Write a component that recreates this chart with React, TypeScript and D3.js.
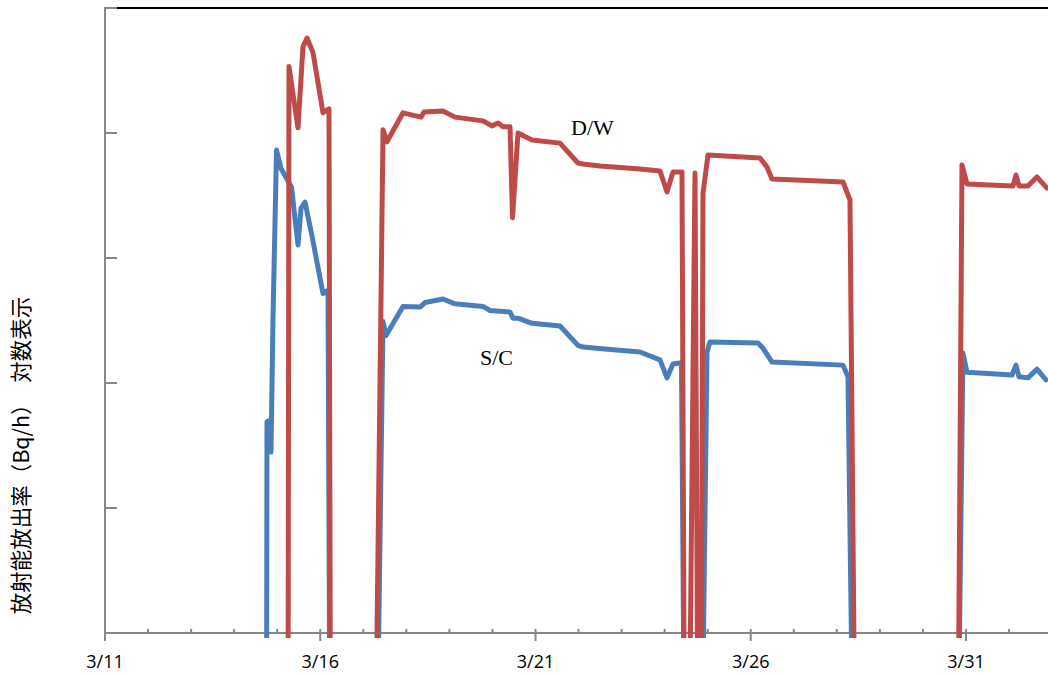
import React from "react";
import * as d3 from "d3";

// Time expressed as (fractional) day of March 2011; values in Bq/h (log scale)
const FLOOR = 1e9; // below axis: no release / no data (drawn to the axis)

const scDays = [
  14.751, 14.763, 14.81, 14.856, 14.902, 14.984, 15.088, 15.332, 15.483, 15.553, 15.646, 15.808, 16.064, 16.18, 16.226,
  17.318, 17.458, 17.527, 17.922, 18.317, 18.433, 18.851, 19.13, 19.78, 19.943, 20.408, 20.477, 20.593, 20.919, 21.569,
  21.987, 22.103, 22.614, 23.427, 23.892, 24.055, 24.194, 24.391, 24.461,
  24.868, 24.984, 25.053, 26.168, 26.285, 26.494, 28.143, 28.259, 28.375,
  30.814, 30.93, 31.023, 32.069, 32.161, 32.231, 32.44, 32.649, 32.858,
];
const scValues = [
  FLOOR, 4.9e11, 5.0e11, 2.8e11, 3.2e12, 7.3e13, 5.2e13, 3.7e13, 1.27e13, 2.5e13, 2.8e13, 1.5e13, 5.2e12, 5.5e12, FLOOR,
  FLOOR, 3.1e12, 2.4e12, 4.1e12, 4.05e12, 4.4e12, 4.7e12, 4.3e12, 4.1e12, 3.8e12, 3.7e12, 3.3e12, 3.3e12, 3.0e12, 2.86e12,
  2.0e12, 1.94e12, 1.87e12, 1.77e12, 1.53e12, 1.1e12, 1.42e12, 1.45e12, FLOOR,
  FLOOR, 1.77e12, 2.13e12, 2.09e12, 1.9e12, 1.47e12, 1.39e12, 1.12e12, FLOOR,
  FLOOR, 1.74e12, 1.22e12, 1.16e12, 1.39e12, 1.12e12, 1.1e12, 1.29e12, 1.06e12,
];

const dwDays = [
  15.251, 15.274, 15.483, 15.599, 15.692, 15.832, 16.064, 16.157, 16.203, 16.238,
  17.285, 17.458, 17.551, 17.922, 18.34, 18.41, 18.851, 19.13, 19.78, 19.99, 20.129, 20.245, 20.408, 20.466, 20.593,
  20.919, 21.569, 21.987, 22.103, 22.498, 23.427, 23.892, 24.055, 24.194, 24.403, 24.461,
  24.57, 24.705, 24.775,
  24.845, 24.891, 25.007, 26.215, 26.377, 26.494, 28.143, 28.305, 28.422,
  30.814, 30.907, 31.023, 32.092, 32.161, 32.231, 32.44, 32.649, 32.882,
];
const dwValues = [
  FLOOR, 3.4e14, 1.1e14, 4.9e14, 5.75e14, 4.4e14, 1.45e14, 1.53e14, 1.56e14, FLOOR,
  FLOOR, 1.06e14, 8.5e13, 1.45e14, 1.34e14, 1.47e14, 1.5e14, 1.34e14, 1.25e14, 1.14e14, 1.2e14, 1.12e14, 1.12e14, 2.1e13, 1.0e14,
  8.8e13, 8.3e13, 5.75e13, 5.65e13, 5.45e13, 5.15e13, 4.97e13, 3.37e13, 4.88e13, 4.88e13, FLOOR,
  FLOOR, 4.79e13, FLOOR,
  FLOOR, 3.31e13, 6.67e13, 6.31e13, 5.35e13, 4.29e13, 4.06e13, 2.91e13, FLOOR,
  FLOOR, 5.55e13, 3.91e13, 3.77e13, 4.61e13, 3.77e13, 3.77e13, 4.45e13, 3.63e13,
];

const xStartDay = 11;
const xEndDay = 32.905;
const majorTickDays = [11, 16, 21, 26, 31];
const majorTickLabels = ["3/11", "3/16", "3/21", "3/26", "3/31"];
const yDomain = [1e10, 1e15];

const yLabel = "放射能放出率（Bq/h）　対数表示";
const seriesLabels = ["D/W", "S/C"];

const dayToDate = (d: number) => new Date(Date.UTC(2011, 2, 1) + (d - 1) * 864e5);

export default function App() {
  const W = 1048;
  const H = 675;
  const left = 105;
  const right = 1048;
  const top = 8;
  const bottom = 633;

  const x = d3.scaleUtc().domain([dayToDate(xStartDay), dayToDate(xEndDay)]).range([left, right]);
  const y = d3.scaleLog().domain(yDomain).range([bottom, top]);

  const line = d3
    .line<[number, number]>()
    .x((p) => x(dayToDate(p[0])))
    .y((p) => y(p[1]));

  const scPts = scDays.map((d, i) => [d, scValues[i]] as [number, number]);
  const dwPts = dwDays.map((d, i) => [d, dwValues[i]] as [number, number]);

  const dayTicks = d3.utcDay.range(dayToDate(xStartDay), dayToDate(xEndDay));
  const majorSet = new Set(majorTickDays.map((d) => +dayToDate(d)));
  const yTicks = [1e10, 1e11, 1e12, 1e13, 1e14, 1e15];
  const axisColor = "#878787";

  return (
    <svg width={W} height={H} style={{ position: "absolute", left: 0, top: 0, background: "#fff" }}>
      <defs>
        <clipPath id="plotClip">
          <rect x={left} y={0} width={right - left} height={638} />
        </clipPath>
      </defs>
      <rect x={0} y={0} width={W} height={H} fill="#fff" />
      {/* top border */}
      <line x1={left} x2={right} y1={top} y2={top} stroke="#000" strokeWidth={2} />
      {/* y axis */}
      <line x1={left} x2={left} y1={top - 1} y2={bottom} stroke={axisColor} strokeWidth={2} />
      {yTicks.map((t) => (
        <line key={t} x1={left} x2={left + 12} y1={y(t)} y2={y(t)} stroke={axisColor} strokeWidth={2} />
      ))}
      {/* x axis */}
      <line x1={left - 1} x2={right} y1={bottom} y2={bottom} stroke={axisColor} strokeWidth={2} />
      {dayTicks.map((t) => {
        const major = majorSet.has(+t);
        return (
          <line
            key={+t}
            x1={x(t)}
            x2={x(t)}
            y1={bottom - 4}
            y2={major ? bottom + 8 : bottom}
            stroke={axisColor}
            strokeWidth={2}
          />
        );
      })}
      {majorTickDays.map((d, i) => (
        <text
          key={d}
          x={x(dayToDate(d))}
          y={668}
          textAnchor="middle"
          fontFamily="'Open Sans', 'Liberation Sans', sans-serif"
          fontSize={18}
          fill="#000"
        >
          {majorTickLabels[i]}
        </text>
      ))}
      {/* y label */}
      <text
        transform={`translate(19, 455.5) rotate(-90)`}
        textAnchor="middle"
        dominantBaseline="central"
        fontFamily="'Noto Sans CJK JP', sans-serif"
        fontSize={21.5}
        fill="#000"
      >
        {yLabel}
      </text>
      {/* series */}
      <g clipPath="url(#plotClip)" fill="none" strokeWidth={5} strokeLinejoin="round" strokeLinecap="round">
        <path d={line(scPts) || ""} stroke="#4A7EBB" />
        <path d={line(dwPts) || ""} stroke="#BE4B48" />
      </g>
      <text x={571} y={135} fontFamily="'Liberation Serif', serif" fontSize={22} fill="#000">
        {seriesLabels[0]}
      </text>
      <text x={480} y={365} fontFamily="'Liberation Serif', serif" fontSize={22} fill="#000">
        {seriesLabels[1]}
      </text>
    </svg>
  );
}
